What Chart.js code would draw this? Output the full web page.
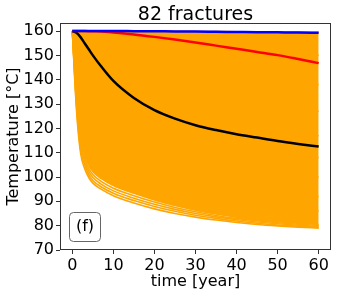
<!DOCTYPE html>
<html><head><meta charset="utf-8">
<script src="https://cdn.jsdelivr.net/npm/chart.js@4/dist/chart.umd.min.js"></script>
<style>html,body{margin:0;padding:0;background:#fff;}</style>
</head><body>
<canvas id="c" width="337" height="295"></canvas>
<script>
// ---- data ----
const TITLE = "82 fractures";
const PANEL_LABEL = "(f)";
const TIME = [0,1,2,3,4,5,7,10,15,20,25,30,35,40,45,50,55,60];
const X_TICKS = [0,10,20,30,40,50,60];
const Y_TICKS = [70,80,90,100,110,120,130,140,150,160];

const BLUE  = [160,160,160,160,160,160,160,160,159.95,159.9,159.85,159.8,159.7,159.6,159.5,159.45,159.4,159.3];
const RED   = [160,160,160,159.98,159.95,159.9,159.8,159.4,158.6,157.6,156.5,155.3,154,152.7,151.4,150.1,148.5,146.8];
const BLACK = [160,159.3,157.5,155,152.5,150,145.5,139.5,132.5,127.5,124,121.3,119.3,117.6,116.2,114.8,113.6,112.5];

// individual fracture curves (orange)
const ORANGE_TOP = [160,160,160,160,160,160,160,160,160,159.95,159.9,159.85,159.8,159.75,159.7,159.6,159.55,159.5];
const ORANGE_M8 = [160,160,159.8,159.5,159,158.5,157.5,156,154.5,153.3,152.4,151.7,151.2,150.8,150.5,150.3,150.1,150];
const ORANGE_M7 = [160,159.5,158.5,157,155,153,149.5,146,142.5,140.8,139.8,139.1,138.7,138.4,138.2,138.1,138.05,138];
const ORANGE_M6 = [160,158,155,151.5,148,144.5,139,134,130.5,129,128.2,127.8,127.5,127.3,127.2,127.1,127.05,127];
const ORANGE_M5 = [160,156,151,146,141.5,137.5,131.5,126.5,122.5,120.5,119.3,118.6,118.1,117.7,117.4,117.2,117.1,117];
const ORANGE_M4 = [160,154,146,139.5,134,129.5,123.5,118.5,114.5,112,110.6,109.7,109.1,108.7,108.4,108.2,108.1,108];
const ORANGE_M3 = [160,150,140,133,127.5,123,117,112,108,105.5,103.8,102.6,101.8,101.2,100.7,100.4,100.2,100];
const ORANGE_M2 = [160,146,134,126,120,115.5,110,105.5,101.5,98.5,96.3,94.8,93.8,93.1,92.6,92.3,92.1,92];
const ORANGE_M1 = [160,140,126,118,113,109,104.5,100.5,96.8,94,91.8,90,88.8,87.8,87,86.5,86.2,86];
const ORANGE_B5 = [160,134,116,109.5,105,102.3,99.4,96.5,93.3,90.6,88.3,86.4,84.8,83.5,82.4,81.6,81,80.5];
const ORANGE_B4 = [160,132.5,114.5,108,103.6,101,98.2,95.4,92.3,89.7,87.5,85.7,84.2,83,82,81.2,80.6,80.1];
const ORANGE_B3 = [160,131,113,106.5,102.3,99.8,97.1,94.3,91.3,88.8,86.7,85,83.6,82.5,81.5,80.8,80.2,79.7];
const ORANGE_B2 = [160,129.5,111.5,105,101,98.6,96,93.3,90.3,87.9,85.9,84.3,83,81.9,81,80.3,79.8,79.3];
const ORANGE_B1 = [160,128,110,103.5,99.8,97.5,95,92.3,89.3,86.9,85,83.5,82.3,81.3,80.5,79.9,79.4,79];

const ORANGE = '#FFA500';
const toXY = arr => TIME.map((t,i)=>({x:t,y:arr[i]}));

const lineDs = (arr,color,w,extra={}) => Object.assign({
  data: toXY(arr), borderColor: color, backgroundColor: color, borderWidth: w,
  pointRadius: 0, fill: false, cubicInterpolationMode: 'monotone'
}, extra);

const datasets = [
  lineDs(BLUE,'#0000FF',2.5),
  lineDs(RED,'#FF0000',2.5),
  lineDs(BLACK,'#000000',2.5),
  lineDs(ORANGE_TOP,ORANGE,1.5),       // index 3
  lineDs(ORANGE_M8,ORANGE,1.5),
  lineDs(ORANGE_M7,ORANGE,1.5),
  lineDs(ORANGE_M6,ORANGE,1.5),
  lineDs(ORANGE_M5,ORANGE,1.5),
  lineDs(ORANGE_M4,ORANGE,1.5),
  lineDs(ORANGE_M3,ORANGE,1.5),
  lineDs(ORANGE_M2,ORANGE,1.5),
  lineDs(ORANGE_M1,ORANGE,1.5),
  lineDs(ORANGE_B5,ORANGE,1.6,{fill:{target:3}, backgroundColor: ORANGE}),
  lineDs(ORANGE_B4,ORANGE,1.6),
  lineDs(ORANGE_B3,ORANGE,1.6),
  lineDs(ORANGE_B2,ORANGE,1.6),
  lineDs(ORANGE_B1,ORANGE,1.6),
];

const FONT = 'DejaVu Sans';

const decor = {
  id: 'decor',
  afterDraw(chart) {
    const {ctx, chartArea: a} = chart;
    ctx.save();
    // frame
    ctx.strokeStyle = '#333';
    ctx.lineWidth = 1;
    ctx.strokeRect(a.left + 0.5, a.top + 0.5, a.right - a.left - 1, a.bottom - a.top - 1);
    // title
    ctx.fillStyle = '#000';
    ctx.font = '19px "' + FONT + '"';
    ctx.textAlign = 'center';
    ctx.textBaseline = 'alphabetic';
    ctx.fillText(TITLE, (a.left + a.right) / 2, 20);
    // panel label box
    const bx = a.left + 9.5, by = a.bottom - 37.5, bw = 31, bh = 29;
    ctx.beginPath();
    ctx.roundRect(bx, by, bw, bh, 4);
    ctx.fillStyle = 'rgba(255,255,255,0.8)';
    ctx.fill();
    ctx.strokeStyle = '#666';
    ctx.lineWidth = 1;
    ctx.stroke();
    ctx.fillStyle = '#000';
    ctx.font = '16px "' + FONT + '"';
    ctx.textAlign = 'center';
    ctx.textBaseline = 'middle';
    ctx.fillText(PANEL_LABEL, bx + bw / 2, by + bh / 2);
    ctx.restore();
  }
};

new Chart(document.getElementById('c'), {
  type: 'line',
  data: { datasets },
  options: {
    responsive: false,
    animation: false,
    devicePixelRatio: 1,
    layout: { padding: { top: 23, right: 6, left: 0, bottom: 0 } },
    plugins: {
      legend: { display: false },
      tooltip: { enabled: false },
      filler: { drawTime: 'beforeDatasetsDraw' }
    },
    scales: {
      x: {
        type: 'linear', min: -3, max: 63,
        afterBuildTicks: s => { s.ticks = X_TICKS.map(v => ({value: v})); },
        afterFit: s => { s.height = 45; },
        grid: { drawOnChartArea: false, drawTicks: true, tickLength: 4, color: '#333', tickColor: '#333' },
        border: { display: false },
        ticks: { color: '#000', font: { family: FONT, size: 16 }, padding: 2, maxRotation: 0 },
        title: { display: true, text: 'time [year]', color: '#000', font: { family: FONT, size: 16 }, padding: { top: 0, bottom: 4 } }
      },
      y: {
        type: 'linear', min: 70, max: 163.3,
        afterBuildTicks: s => { s.ticks = Y_TICKS.map(v => ({value: v})); },
        afterFit: s => { s.width = 60; },
        grid: { drawOnChartArea: false, drawTicks: true, tickLength: 4, color: '#333', tickColor: '#333' },
        border: { display: false },
        ticks: { color: '#000', font: { family: FONT, size: 16 }, padding: 2 },
        title: { display: true, text: 'Temperature [°C]', color: '#000', font: { family: FONT, size: 16 }, padding: { top: 4, bottom: 0 } }
      }
    }
  },
  plugins: [decor]
});
</script>
</body></html>
